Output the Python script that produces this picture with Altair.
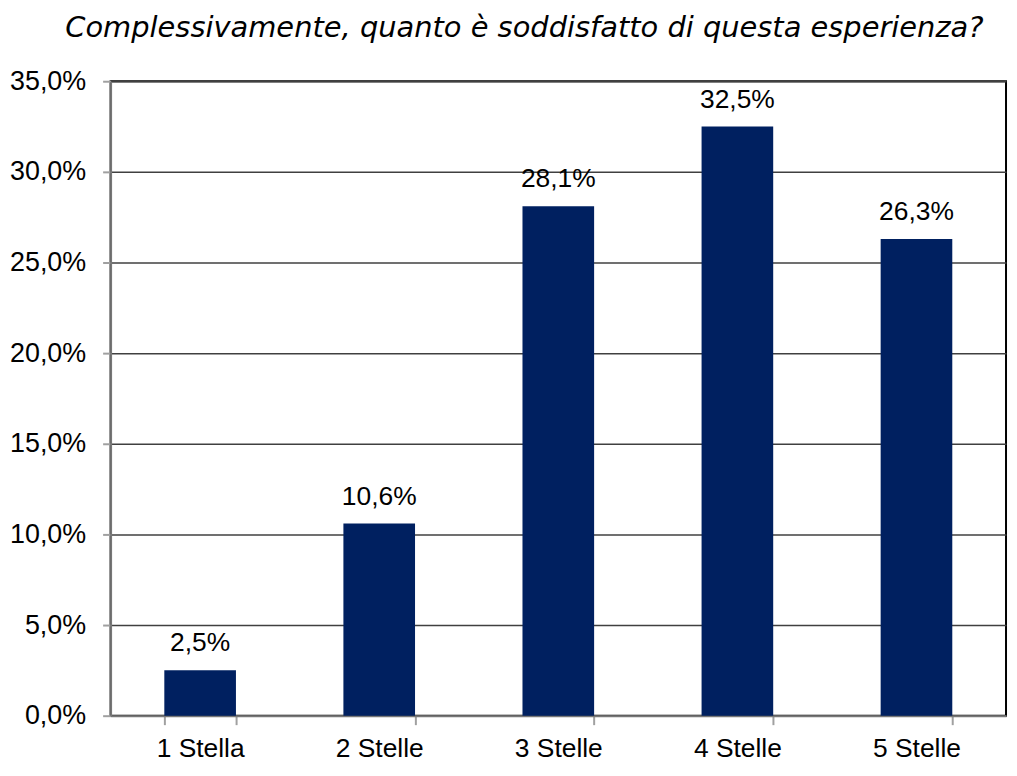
import altair as alt
import pandas as pd

categories = ["1 Stella", "2 Stelle", "3 Stelle", "4 Stelle", "5 Stelle"]
values = [0.025, 0.106, 0.281, 0.325, 0.263]

df = pd.DataFrame({"cat": categories, "val": values})

FONT = "Liberation Sans"

base = alt.Chart(df).transform_calculate(
    label="replace(format(datum.val, '.1%'), '.', ',')"
)

x = alt.X(
    "cat:N",
    sort=categories,
    title=None,
    scale=alt.Scale(paddingInner=0.6, paddingOuter=0.3),
    axis=alt.Axis(
        labelAngle=0,
        tickBand="extent",
        tickSize=9,
        tickColor="#a0a0a0",
        tickWidth=2,
        domainColor="#777777",
        domainWidth=2,
        labelFont=FONT,
        labelFontSize=26.5,
        labelColor="#000000",
        labelPadding=11,
        grid=False,
    ),
)

y = alt.Y(
    "val:Q",
    title=None,
    scale=alt.Scale(domain=[0, 0.35], nice=False),
    axis=alt.Axis(
        values=[0, 0.05, 0.10, 0.15, 0.20, 0.25, 0.30, 0.35],
        labelExpr="replace(format(datum.value, '.1%'), '.', ',')",
        tickSize=8,
        tickColor="#a0a0a0",
        tickWidth=2,
        domainColor="#777777",
        domainWidth=2,
        labelFont=FONT,
        labelFontSize=27,
        labelColor="#000000",
        labelPadding=17,
        grid=True,
        gridColor="#404040",
        gridWidth=1.5,
    ),
)

bars = base.mark_bar(color="#002060").encode(x=x, y=y)

text = base.mark_text(
    font=FONT, fontSize=26.5, color="#000000", baseline="alphabetic", dy=-19
).encode(x=alt.X("cat:N", sort=categories), y="val:Q", text="label:N")

chart = (
    alt.layer(bars, text)
    .properties(
        width=899,
        height=637,
        autosize=alt.AutoSizeParams(type="none"),
        padding={"left": 103, "top": 72, "right": 3, "bottom": 50},
        title=alt.TitleParams(
            "Complessivamente, quanto è soddisfatto di questa esperienza?",
            font="DejaVu Sans",
            fontStyle="italic",
            fontWeight="normal",
            fontSize=29,
            color="#000000",
            anchor="middle",
            dx=-34,
            offset=24,
        ),
    )
    .configure_view(stroke="#000000", strokeWidth=2)
)

chart.save("out.html", embed_options={"renderer": "svg", "actions": False})
